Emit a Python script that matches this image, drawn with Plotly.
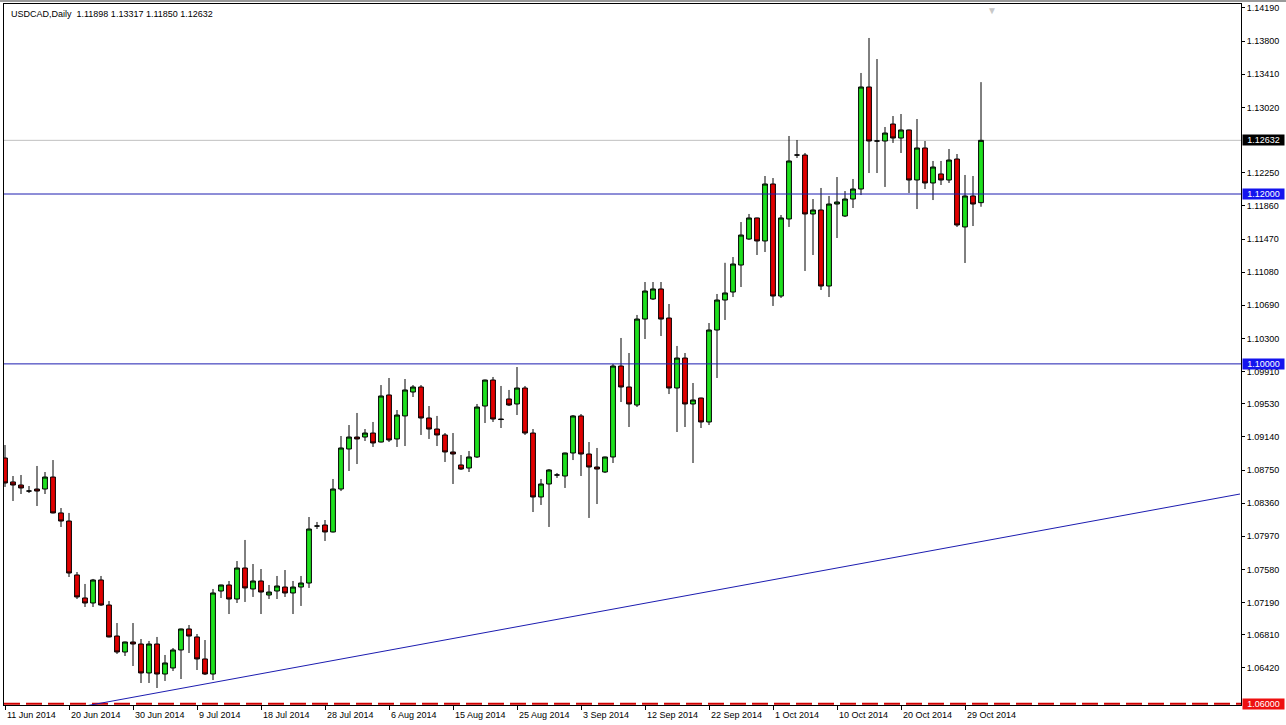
import pandas as pd
import plotly.graph_objects as go

# ---------------- data ----------------
title_text = "USDCAD,Daily  1.11898 1.13317 1.11850 1.12632"

first_day = "2014-06-11"
last_day = "2014-10-31"
# daily bars exist Sunday..Friday (no Saturday bars on this feed)
calendar = pd.date_range(first_day, last_day, freq="D")
dates = [d.strftime("%Y-%m-%d") for d in calendar if d.dayofweek != 5]

opens = [1.08892, 1.08610, 1.08574, 1.08503, 1.08527, 1.08527, 1.08668, 1.08245, 1.08150, 1.07515,
         1.07244, 1.07185, 1.07456, 1.07161, 1.06796, 1.06608, 1.06726, 1.06702, 1.06361, 1.06702,
         1.06349, 1.06420, 1.06632, 1.06879, 1.06785, 1.06526, 1.06349, 1.07326, 1.07397, 1.07232,
         1.07597, 1.07350, 1.07444, 1.07279, 1.07326, 1.07373, 1.07303, 1.07373, 1.07420, 1.08091,
         1.08103, 1.08021, 1.08527, 1.08998, 1.09139, 1.09139, 1.09186, 1.09080, 1.09634, 1.09116,
         1.09387, 1.09669, 1.09728, 1.09363, 1.09233, 1.09163, 1.08963, 1.08810, 1.08774, 1.08904,
         1.09504, 1.09810, 1.09351, 1.09587, 1.09528, 1.09716, 1.09186, 1.08433, 1.08586, 1.08692,
         1.08680, 1.08951, 1.09387, 1.08939, 1.08786, 1.08727, 1.08904, 1.09975, 1.09728, 1.09516,
         1.10528, 1.10764, 1.10882, 1.10540, 1.09716, 1.10069, 1.09528, 1.09598, 1.09316, 1.10399,
         1.10752, 1.10846, 1.11164, 1.11470, 1.11718, 1.11447, 1.12118, 1.10799, 1.11706, 1.12459,
         1.12459, 1.11765, 1.11812, 1.10917, 1.11882, 1.11741, 1.11941, 1.12059, 1.13260, 1.12624,
         1.12624, 1.12824, 1.12659, 1.12754, 1.12165, 1.12542, 1.12130, 1.12236, 1.12165, 1.12412,
         1.11612, 1.11977, 1.11898]
highs = [1.09045, 1.08680, 1.08692, 1.08562, 1.08798, 1.08727, 1.08868, 1.08303, 1.08245, 1.07550,
         1.07409, 1.07468, 1.07503, 1.07208, 1.06949, 1.06730, 1.06949, 1.06761, 1.06738, 1.06785,
         1.06573, 1.06655, 1.06883, 1.06926, 1.06820, 1.06749, 1.07350, 1.07400, 1.07444, 1.07679,
         1.07927, 1.07644, 1.07585, 1.07397, 1.07503, 1.07573, 1.07444, 1.07503, 1.08197, 1.08139,
         1.08162, 1.08645, 1.09151, 1.09280, 1.09422, 1.09233, 1.09316, 1.09751, 1.09834, 1.09457,
         1.09822, 1.09751, 1.09751, 1.09504, 1.09387, 1.09186, 1.09186, 1.08927, 1.08974, 1.09528,
         1.09815, 1.09846, 1.09740, 1.09693, 1.09963, 1.09740, 1.09233, 1.08645, 1.08762, 1.08715,
         1.08955, 1.09398, 1.09410, 1.09080, 1.09010, 1.08908, 1.09999, 1.10305, 1.10128, 1.10576,
         1.10964, 1.10964, 1.10964, 1.10705, 1.10211, 1.10128, 1.09775, 1.09602, 1.10481, 1.10823,
         1.11190, 1.11258, 1.11670, 1.11765, 1.11722, 1.12212, 1.12188, 1.11753, 1.12683, 1.12636,
         1.12483, 1.11941, 1.12071, 1.11977, 1.12200, 1.12035, 1.12177, 1.13425, 1.13837, 1.13589,
         1.12789, 1.12918, 1.12942, 1.12758, 1.12883, 1.12624, 1.12389, 1.12389, 1.12530, 1.12471,
         1.12224, 1.12212, 1.13317]
lows = [1.08551, 1.08386, 1.08468, 1.08480, 1.08327, 1.08468, 1.08240, 1.08080, 1.07491, 1.07232,
        1.07138, 1.07138, 1.07150, 1.06780, 1.06585, 1.06561, 1.06443, 1.06243, 1.06243, 1.06184,
        1.06267, 1.06384, 1.06290, 1.06596, 1.06396, 1.06337, 1.06278, 1.07244, 1.07055, 1.07185,
        1.07197, 1.07256, 1.07055, 1.07232, 1.07232, 1.07256, 1.07055, 1.07150, 1.07362, 1.08056,
        1.07915, 1.08015, 1.08503, 1.08739, 1.08821, 1.09092, 1.09022, 1.09075, 1.09080, 1.09022,
        1.09033, 1.09610, 1.09163, 1.09116, 1.09033, 1.08845, 1.08586, 1.08751, 1.08727, 1.08892,
        1.09304, 1.09316, 1.09245, 1.09504, 1.09398, 1.09163, 1.08256, 1.08339, 1.08080, 1.08657,
        1.08539, 1.08868, 1.08680, 1.08186, 1.08350, 1.08715, 1.08833, 1.09551, 1.09257, 1.09492,
        1.10293, 1.10752, 1.10328, 1.09645, 1.09198, 1.09257, 1.08833, 1.09245, 1.09280, 1.09834,
        1.10517, 1.10787, 1.10905, 1.11459, 1.11282, 1.11317, 1.10682, 1.10776, 1.11612, 1.12424,
        1.11094, 1.11282, 1.10870, 1.10787, 1.11482, 1.11729, 1.11835, 1.11988, 1.12247, 1.12247,
        1.12083, 1.12601, 1.12483, 1.12012, 1.11823, 1.12059, 1.11929, 1.12106, 1.12130, 1.11612,
        1.11188, 1.11623, 1.11850]
closes = [1.08598, 1.08574, 1.08539, 1.08503, 1.08503, 1.08668, 1.08245, 1.08150, 1.07538, 1.07256,
          1.07185, 1.07456, 1.07161, 1.06785, 1.06608, 1.06726, 1.06702, 1.06361, 1.06702, 1.06349,
          1.06479, 1.06632, 1.06879, 1.06796, 1.06526, 1.06349, 1.07303, 1.07397, 1.07232, 1.07597,
          1.07362, 1.07444, 1.07314, 1.07314, 1.07385, 1.07303, 1.07373, 1.07420, 1.08056, 1.08091,
          1.08021, 1.08527, 1.09010, 1.09139, 1.09116, 1.09186, 1.09069, 1.09622, 1.09104, 1.09398,
          1.09693, 1.09728, 1.09363, 1.09233, 1.09163, 1.08963, 1.08939, 1.08762, 1.08904, 1.09492,
          1.09810, 1.09351, 1.09345, 1.09516, 1.09716, 1.09186, 1.08433, 1.08586, 1.08751, 1.08692,
          1.08951, 1.09387, 1.08939, 1.08786, 1.08762, 1.08904, 1.09975, 1.09728, 1.09528, 1.10528,
          1.10858, 1.10882, 1.10528, 1.09716, 1.10069, 1.09528, 1.09575, 1.09316, 1.10399, 1.10752,
          1.10835, 1.11176, 1.11517, 1.11718, 1.11447, 1.12118, 1.10799, 1.11718, 1.12389, 1.12459,
          1.11765, 1.11812, 1.10917, 1.11882, 1.11906, 1.11941, 1.12059, 1.13260, 1.12624, 1.12624,
          1.12718, 1.12659, 1.12754, 1.12165, 1.12542, 1.12130, 1.12318, 1.12165, 1.12400, 1.11635,
          1.11977, 1.11882, 1.12632]

# price scale ticks (right axis)
ytick_vals = [1.14190, 1.13800, 1.13410, 1.13020, 1.12250, 1.11860, 1.11470, 1.11080, 1.10690,
              1.10300, 1.09910, 1.09530, 1.09140, 1.08750, 1.08360, 1.07970, 1.07580, 1.07190,
              1.06810, 1.06420]
ytick_text = [f"{v:.5f}" for v in ytick_vals]
y_range = [1.05984, 1.14237]

# time scale labels
xtick_dates = ["2014-06-11", "2014-06-20", "2014-06-30", "2014-07-09", "2014-07-18", "2014-07-28",
               "2014-08-06", "2014-08-15", "2014-08-25", "2014-09-03", "2014-09-12", "2014-09-22",
               "2014-10-01", "2014-10-10", "2014-10-20", "2014-10-29"]
xtick_labels = ["11 Jun 2014", "20 Jun 2014", "30 Jun 2014", "9 Jul 2014", "18 Jul 2014",
                "28 Jul 2014", "6 Aug 2014", "15 Aug 2014", "25 Aug 2014", "3 Sep 2014",
                "12 Sep 2014", "22 Sep 2014", "1 Oct 2014", "10 Oct 2014", "20 Oct 2014",
                "29 Oct 2014"]
x_range = [-0.125, 154.5]  # in bar units

# drawn objects
blue_levels = [1.12000, 1.10000]
bid_price = 1.12632
red_level = 1.06000
trend_bars = [10.375, 154.375]
trend_prices = [1.05978, 1.08468]

# ---------------- figure ----------------
BLUE = "#1c1cb0"
FONT = "Liberation Sans"

fig = go.Figure()
fig.add_trace(go.Candlestick(
    x=dates, open=opens, high=highs, low=lows, close=closes,
    increasing=dict(line=dict(color="black", width=1), fillcolor="#1ee01e"),
    decreasing=dict(line=dict(color="black", width=1), fillcolor="#e00000"),
    whiskerwidth=0, showlegend=False, hoverinfo="x+y",
))

shapes = []
# grey bid line
shapes.append(dict(type="line", xref="paper", x0=0, x1=1, yref="y", y0=bid_price, y1=bid_price,
                   line=dict(color="#c0c0c0", width=1), layer="below"))
for lv in blue_levels:
    shapes.append(dict(type="line", xref="paper", x0=0, x1=1, yref="y", y0=lv, y1=lv,
                       line=dict(color=BLUE, width=1)))
shapes.append(dict(type="line", xref="paper", x0=0, x1=1, yref="y", y0=red_level, y1=red_level,
                   line=dict(color="#d00000", width=2, dash="16px,6px")))
shapes.append(dict(type="line", xref="x", x0=trend_bars[0], x1=trend_bars[1], yref="y",
                   y0=trend_prices[0], y1=trend_prices[1], line=dict(color=BLUE, width=1)))
# window border (top)
shapes.append(dict(type="line", xref="paper", yref="paper", x0=-0.01, x1=1.05,
                   y0=1 + 3.0 / 701, y1=1 + 3.0 / 701, line=dict(color="#9a9a9a", width=2)))

annotations = []
annotations.append(dict(text=title_text, xref="paper", yref="paper", x=0, y=1, xanchor="left",
                        yanchor="top", xshift=5, yshift=-3, showarrow=False,
                        font=dict(family=FONT, size=9, color="black")))
for d, lab in zip(xtick_dates, xtick_labels):
    annotations.append(dict(text=lab, xref="x", yref="paper", x=d, y=0, xanchor="left",
                            yanchor="top", xshift=0, yshift=-3, showarrow=False,
                            font=dict(family=FONT, size=9, color="black")))
for price, bg in [(bid_price, "black"), (blue_levels[0], "#1414ee"), (blue_levels[1], "#1414ee"),
                  (red_level, "#ee1010")]:
    annotations.append(dict(text=f"{price:.5f}", xref="paper", yref="y", x=1, y=price,
                            xanchor="left", yanchor="middle", xshift=1, showarrow=False,
                            bgcolor=bg, width=41, height=10, borderpad=0, align="center",
                            font=dict(family=FONT, size=9, color="white")))
annotations.append(dict(text="▼", xref="paper", yref="paper", x=(999 - 4) / 1237, y=1,
                        yanchor="top", yshift=1, showarrow=False,
                        font=dict(size=10, color="#c8c8c8")))

fig.update_layout(
    width=1286, height=725, autosize=False,
    margin=dict(l=4, r=45, t=4, b=20, pad=0),
    paper_bgcolor="white", plot_bgcolor="white",
    font=dict(family=FONT, size=9, color="black"),
    boxgap=0.4, boxgroupgap=0,
    shapes=shapes, annotations=annotations,
    showlegend=False,
    xaxis=dict(type="category", range=x_range, rangeslider=dict(visible=False),
               showgrid=False, zeroline=False, showline=True, mirror=True,
               linecolor="black", linewidth=1, ticks="outside", ticklen=4,
               tickcolor="black", tickvals=xtick_dates, showticklabels=False),
    yaxis=dict(side="right", range=y_range, tickvals=ytick_vals, ticktext=ytick_text,
               showgrid=False, zeroline=False, showline=True, mirror=True,
               linecolor="black", linewidth=1, ticks="outside", ticklen=3,
               tickcolor="black", tickfont=dict(family=FONT, size=9)),
)

fig.write_html("out.html",
               config={"displayModeBar": False},
               post_script="document.body.style.margin='0px';document.body.style.overflow='hidden';")
